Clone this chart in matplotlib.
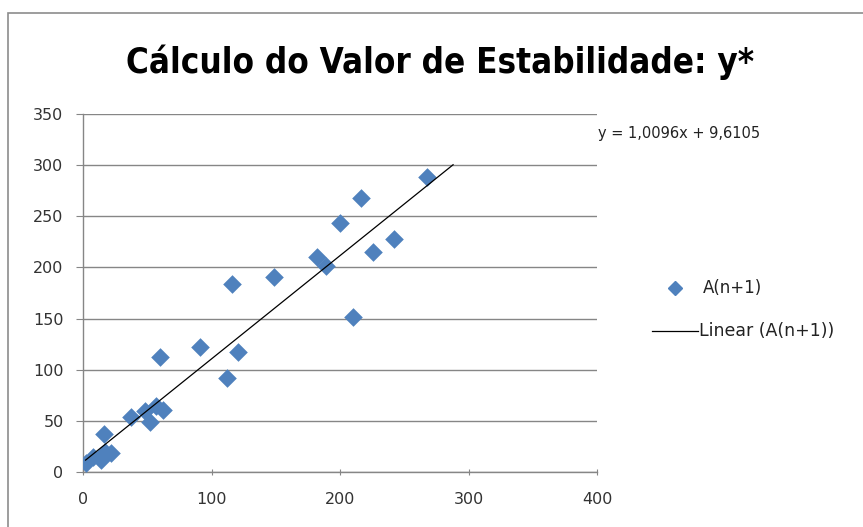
import matplotlib
matplotlib.use("Agg")
import matplotlib.pyplot as plt
from matplotlib.patches import Rectangle
from matplotlib.lines import Line2D
import numpy as np

# Data
x_vals = [2, 8, 14, 17, 22, 16, 37, 48, 52, 57, 62, 60, 91, 112, 116, 121,
          149, 182, 189, 200, 210, 216, 226, 242, 268]
y_vals = [9, 15, 12, 20, 19, 37, 54, 60, 49, 65, 61, 112, 122, 92, 184, 117,
          191, 210, 201, 243, 152, 268, 215, 228, 288]
slope = 1.0096
intercept = 9.6105
trend_x_end = 288

x_ticks = [0, 100, 200, 300, 400]
y_ticks = [0, 50, 100, 150, 200, 250, 300, 350]

W, H = 863, 527
fig = plt.figure(figsize=(W / 100, H / 100), dpi=100)
plt.rcParams['font.family'] = ['DejaVu Sans']

ax = fig.add_axes([83 / W, 1 - 472 / H, (597 - 83) / W, (472 - 114) / H])

blue = '#4F81BD'
grid_c = '#868686'

ax.scatter(x_vals, y_vals, marker='D', s=90, color=blue, zorder=3, linewidths=0)
tx = np.array([min(x_vals), trend_x_end])
ax.plot(tx, slope * tx + intercept, color='black', lw=0.9, zorder=4)

ax.set_xlim(0, 400)
ax.set_ylim(0, 350)
ax.set_xticks(x_ticks)
ax.set_yticks(y_ticks)
ax.yaxis.grid(True, color=grid_c, lw=1)
ax.set_axisbelow(True)
for s in ['top', 'right']:
    ax.spines[s].set_visible(False)
for s in ['left', 'bottom']:
    ax.spines[s].set_color(grid_c)
    ax.spines[s].set_linewidth(1)
ax.tick_params(axis='both', colors=grid_c, labelcolor='#333333', labelsize=11.5, length=5)
ax.tick_params(axis='x', direction='inout', pad=12)
ax.tick_params(axis='y', direction='out', pad=9)

fig.text(440 / W, 1 - 62 / H, 'Cálculo do Valor de Estabilidade: y*', ha='center', va='center',
         fontsize=25, fontweight='bold', fontstretch='condensed', color='black')

fig.text(598 / W, 1 - 133 / H, 'y = 1,0096x + 9,6105', ha='left', va='center', fontsize=10.5,
         color='#222222')

# legend
fig.add_artist(Line2D([675 / W], [1 - 288 / H], marker='D', markersize=7, color=blue,
                      linestyle='none', transform=fig.transFigure))
fig.text(703 / W, 1 - 288 / H, 'A(n+1)', ha='left', va='center', fontsize=12, color='#222222')
fig.add_artist(Line2D([652 / W, 698 / W], [1 - 331 / H, 1 - 331 / H], color='black', lw=0.9,
                      transform=fig.transFigure))
fig.text(699 / W, 1 - 331 / H, 'Linear (A(n+1))', ha='left', va='center', fontsize=12.5,
         color='#222222')

# chart border
fig.add_artist(Rectangle((8 / W, -0.1), 1.2, 1 - 13 / H + 0.1, transform=fig.transFigure,
                         fill=False, edgecolor='#8c8c8c', lw=1.2, clip_on=False))

fig.savefig('out.png', dpi=100)
